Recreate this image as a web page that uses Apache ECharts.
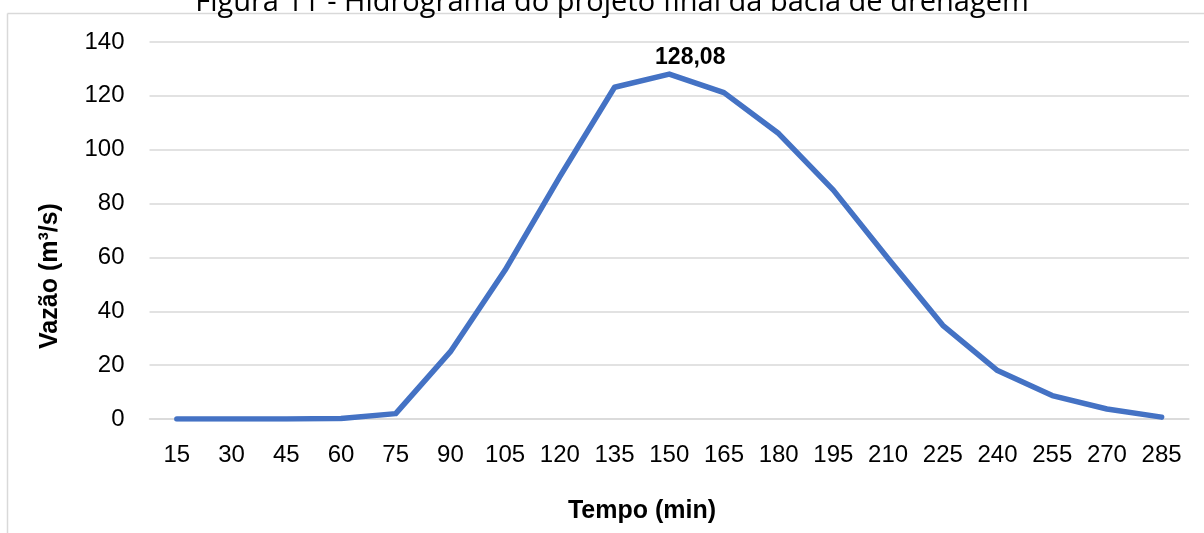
<!DOCTYPE html>
<html>
<head>
<meta charset="utf-8">
<script src="https://cdn.jsdelivr.net/npm/echarts@6/dist/echarts.min.js"></script>
<style>
  html, body { margin: 0; padding: 0; background: #fff; }
  #chart { width: 1204px; height: 533px; }
</style>
</head>
<body>
<div id="chart"></div>
<script>
  const tempo = ['15', '30', '45', '60', '75', '90', '105', '120', '135', '150',
                 '165', '180', '195', '210', '225', '240', '255', '270', '285'];
  const vazao = [0, 0, 0, 0.2, 2, 25, 55.3, 90, 123.2, 128.08,
                 121.2, 106, 85, 59.6, 34.8, 18, 8.7, 3.7, 0.7];
  const yTicks = [0, 20, 40, 60, 80, 100, 120, 140];
  const picoIdx = 9;
  const titulo = 'Figura 11 - Hidrograma do projeto final da bacia de drenagem';

  const font = 'Liberation Sans, Arial, sans-serif';
  const chart = echarts.init(document.getElementById('chart'));

  chart.setOption({
    animation: false,
    grid: { left: 149.5, right: 15, top: 42, bottom: 114 },
    xAxis: {
      type: 'category',
      data: tempo,
      boundaryGap: true,
      axisLine: { lineStyle: { color: '#d9d9d9', width: 1.5 } },
      axisTick: { show: false },
      axisLabel: { color: '#000', fontSize: 24, fontFamily: font, margin: 24, interval: 0 }
    },
    yAxis: {
      type: 'value',
      min: yTicks[0],
      max: yTicks[yTicks.length - 1],
      interval: 20,
      axisLine: { show: false },
      axisTick: { show: false },
      axisLabel: { color: '#000', fontSize: 24, fontFamily: font, margin: 25 },
      splitLine: { lineStyle: { color: '#d9d9d9', width: 1.5 } }
    },
    series: [{
      type: 'line',
      data: vazao.map((v, i) => i === picoIdx ? {
        value: v,
        label: {
          show: true, position: 'top', distance: 5, offset: [21, 0],
          formatter: () => v.toFixed(2).replace('.', ','),
          color: '#000', fontSize: 23, fontWeight: 'bold', fontFamily: font
        }
      } : v),
      symbol: 'circle',
      symbolSize: 0,
      showSymbol: true,
      lineStyle: { color: '#4472c4', width: 5.5, cap: 'round', join: 'round' },
      itemStyle: { color: '#4472c4' }
    }],
    graphic: [
      { type: 'line', shape: { x1: 7.5, y1: 13.5, x2: 1204, y2: 13.5 }, style: { stroke: '#d9d9d9', lineWidth: 1.5 } },
      { type: 'line', shape: { x1: 7.5, y1: 13.5, x2: 7.5, y2: 533 }, style: { stroke: '#d9d9d9', lineWidth: 1.5 } },
      { type: 'text', x: 612, y: 17, style: { text: titulo, font: '29px Open Sans', fill: '#000', textAlign: 'center', textVerticalAlign: 'bottom' } },
      { type: 'text', x: 642, y: 511, style: { text: 'Tempo (min)', font: 'bold 25px ' + font, fill: '#000', textAlign: 'center', textVerticalAlign: 'middle' } },
      { type: 'text', x: 50, y: 276, rotation: Math.PI / 2, style: { text: 'Vazão (m³/s)', font: 'bold 25px ' + font, fill: '#000', textAlign: 'center', textVerticalAlign: 'middle' } }
    ]
  });
</script>
</body>
</html>
